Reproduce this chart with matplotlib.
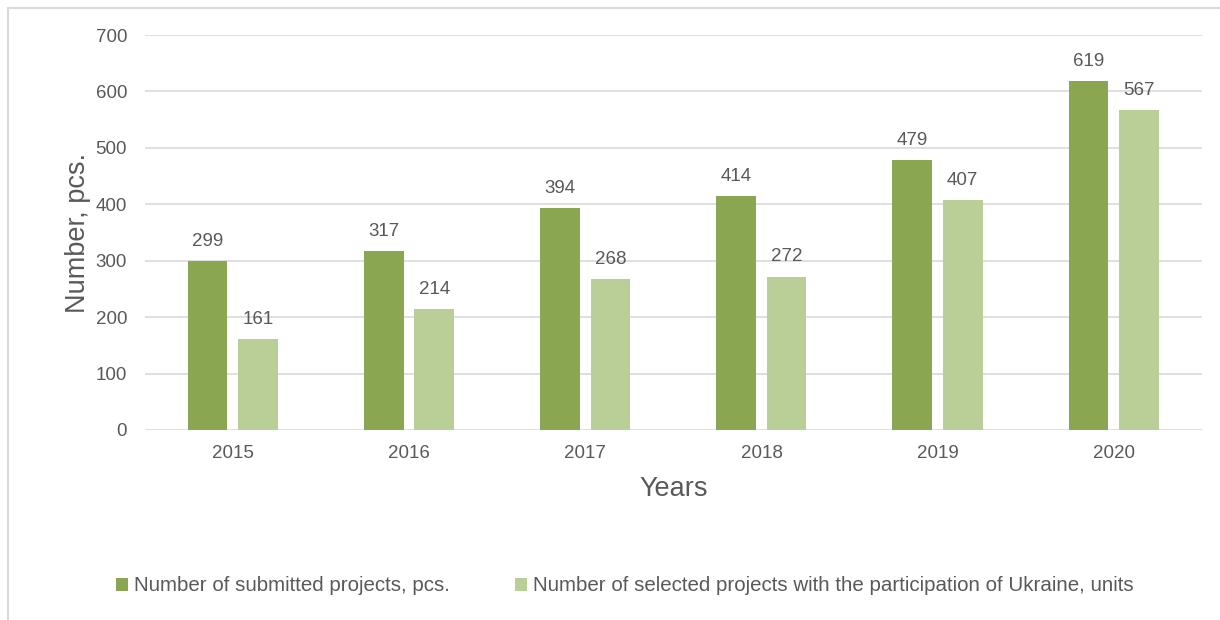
import numpy as np
import matplotlib
matplotlib.use('Agg')
import matplotlib.pyplot as plt
from matplotlib.patches import Rectangle

# данные
years = ['2015', '2016', '2017', '2018', '2019', '2020']
submitted = [299, 317, 394, 414, 479, 619]
selected = [161, 214, 268, 272, 407, 567]
label_submitted = 'Number of submitted projects, pcs.'
label_selected = 'Number of selected projects with the participation of Ukraine, units'

dark = '#8BA650'
light = '#BACF97'
text_col = '#595959'
grid_col = '#D9D9D9'

plt.rcParams['font.family'] = ['Liberation Sans', 'DejaVu Sans']

fig = plt.figure(figsize=(12.2, 6.2), dpi=100)
ax = fig.add_axes([0.1189, 0.3065, 0.8663, 0.637])

x = np.arange(len(years))
w = 0.225
b1 = ax.bar(x - 0.145, submitted, w, color=dark, label=label_submitted, zorder=3)
b2 = ax.bar(x + 0.142, selected, w, color=light, label=label_selected, zorder=3)

for bars in (b1, b2):
    for rect in bars:
        h = rect.get_height()
        ax.annotate(f'{h:.0f}', (rect.get_x() + rect.get_width() / 2, h),
                    xytext=(0, 8), textcoords='offset points',
                    ha='center', va='bottom', fontsize=13.5, color=text_col)

ax.set_xlim(-0.5, len(years) - 0.5)
ax.set_ylim(0, 700)
ax.set_yticks(range(0, 701, 100))
ax.set_xticks(x)
ax.set_xticklabels(years)
ax.tick_params(axis='both', length=0, labelsize=13.5, labelcolor=text_col)
ax.tick_params(axis='y', pad=13)
ax.tick_params(axis='x', pad=11)
ax.grid(axis='y', color=grid_col, linewidth=1.2, zorder=0)
for s in ax.spines.values():
    s.set_visible(False)

ax.set_ylabel('Number, pcs.', fontsize=19.5, color=text_col, labelpad=3)
ax.set_xlabel('Years', fontsize=19.5, color=text_col, labelpad=10)

fig.legend(handles=[b1, b2], loc='center', bbox_to_anchor=(0.512, 0.055),
           ncol=2, frameon=False, fontsize=14.8, labelcolor=text_col,
           handlelength=0.6, handleheight=0.6, handletextpad=0.25,
           columnspacing=3.2)

# рамка вокруг графика
fig.add_artist(Rectangle((0.0066, -0.1), 1.2, 1.087, transform=fig.transFigure,
                         fill=False, edgecolor=grid_col, linewidth=1.5))

fig.savefig('out.png', dpi=100)
